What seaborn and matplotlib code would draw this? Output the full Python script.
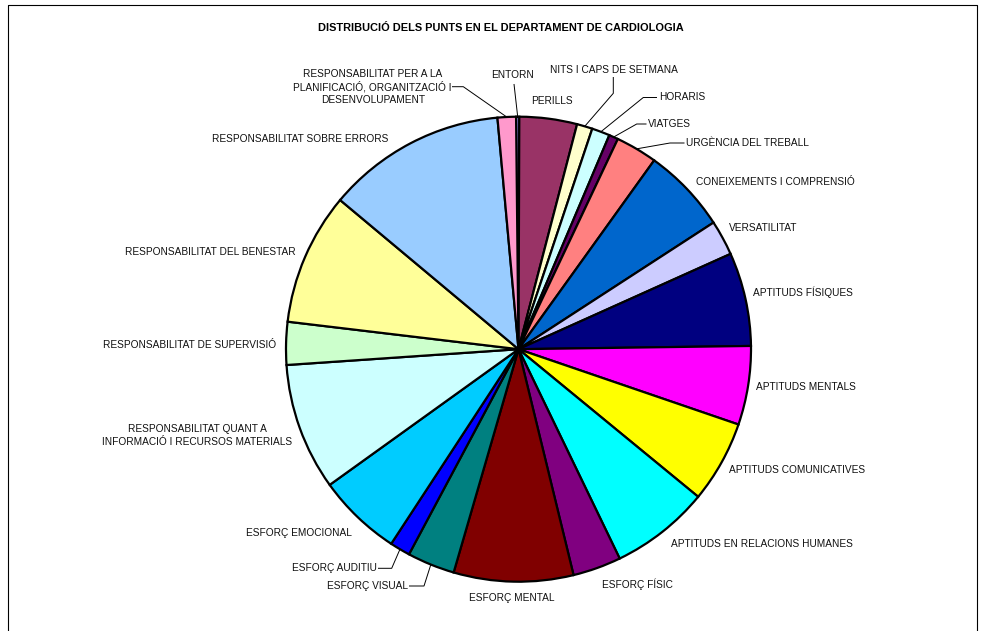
import numpy as np
import matplotlib
matplotlib.use('Agg')
import matplotlib.pyplot as plt
import seaborn as sns

# ---------------- data ----------------
categories = [
    "ENTORN", "PERILLS", "NITS I CAPS DE SETMANA", "HORARIS", "VIATGES",
    "URGÈNCIA DEL TREBALL", "CONEIXEMENTS I COMPRENSIÓ", "VERSATILITAT",
    "APTITUDS FÍSIQUES", "APTITUDS MENTALS", "APTITUDS COMUNICATIVES",
    "APTITUDS EN RELACIONS HUMANES", "ESFORÇ FÍSIC", "ESFORÇ MENTAL",
    "ESFORÇ VISUAL", "ESFORÇ AUDITIU", "ESFORÇ EMOCIONAL",
    "RESPONSABILITAT QUANT A\nINFORMACIÓ I RECURSOS MATERIALS",
    "RESPONSABILITAT DE SUPERVISIÓ", "RESPONSABILITAT DEL BENESTAR",
    "RESPONSABILITAT SOBRE ERRORS",
    "RESPONSABILITAT PER A LA\nPLANIFICACIÓ, ORGANITZACIÓ I\nDESENVOLUPAMENT",
]
values = [0.8, 14.4, 3.9, 4.5, 2.3, 10.4, 21.3, 8.8, 23.4, 19.7, 20.5,
          24.8, 12.1, 29.9, 11.9, 5.1, 21.1, 31.8, 10.7, 33.1, 44.9, 4.6]
colors = ["#9999FF", "#993366", "#FFFFCC", "#CCFFFF", "#660066", "#FF8080",
          "#0066CC", "#CCCCFF", "#000080", "#FF00FF", "#FFFF00", "#00FFFF",
          "#800080", "#800000", "#008080", "#0000FF", "#00CCFF", "#CCFFFF",
          "#CCFFCC", "#FFFF99", "#99CCFF", "#FF99CC"]
title = "DISTRIBUCIÓ DELS PUNTS EN EL DEPARTAMENT DE CARDIOLOGIA"

# ---------------- layout (pixel coords, y from top) ----------------
# label: (x, y, ha, elbow points for leader line or None)
label_layout = [
    (513, 75, 'center', [(514, 84)]),
    (552, 101, 'center', None),
    (614, 70, 'center', [(613.3, 77), (613.3, 93.3)]),
    (659, 97.5, 'left', [(657, 97.5), (643.3, 97.5)]),
    (648, 124, 'left', [(646.5, 124), (636.7, 124)]),
    (686, 143, 'left', [(684.5, 143), (670, 143)]),
    (696.5, 182, 'left', None),
    (729.3, 227.7, 'left', None),
    (752.7, 292.7, 'left', None),
    (756.5, 387.3, 'left', None),
    (729.3, 470, 'left', None),
    (671, 544.3, 'left', None),
    (601.7, 584, 'left', None),
    (511.7, 597.7, 'center', None),
    (407.7, 586, 'right', [(409, 586), (424, 586)]),
    (376.7, 568.3, 'right', [(378, 568.3), (391.7, 568.3)]),
    (352, 533, 'right', None),
    (197.5, 435.5, 'center', None),
    (276, 345, 'right', None),
    (296, 252, 'right', None),
    (388.5, 139.3, 'right', None),
    (372.7, 87, 'center', [(452, 86.7), (463.3, 86.7)]),
]

sns.set_theme(style='white')
plt.rcParams['font.family'] = ['Liberation Sans', 'DejaVu Sans']

W, H = 985, 631
fig = plt.figure(figsize=(W / 100, H / 100), dpi=100)
fig.patch.set_facecolor('white')
ax = fig.add_axes([0, 0, 1, 1])

cx, cy, R = 518.5, H - 349.2, 232.5
wedges, _ = ax.pie(values, colors=colors, startangle=90.6, counterclock=False,
                   center=(cx, cy), radius=R,
                   wedgeprops=dict(edgecolor='black', linewidth=1.6))
ax.set_xlim(0, W)
ax.set_ylim(0, H)
ax.set_aspect('equal', adjustable='box')
ax.axis('off')

for w, lab, (lx, ly, ha, elbow) in zip(wedges, categories, label_layout):
    ax.text(lx, H - ly, lab, ha=ha, va='center', fontsize=7.3, color='#111111',
            multialignment='center', linespacing=1.3)
    if elbow:
        th = np.deg2rad((w.theta1 + w.theta2) / 2)
        ex, ey = cx + R * np.cos(th), cy + R * np.sin(th)
        xs = [p[0] for p in elbow] + [ex]
        ys = [H - p[1] for p in elbow] + [ey]
        ax.plot(xs, ys, color='black', lw=0.7, solid_capstyle='butt')

ax.text(501, H - 28, title, ha='center', va='center', fontsize=7.9,
        fontweight='bold', color='black')

# chart frame
ax.plot([8, 8, 977, 977], [H - 660, H - 5, H - 5, H - 660], color='black',
        lw=0.8, clip_on=False)

fig.savefig('out.png', dpi=100, facecolor='white')
